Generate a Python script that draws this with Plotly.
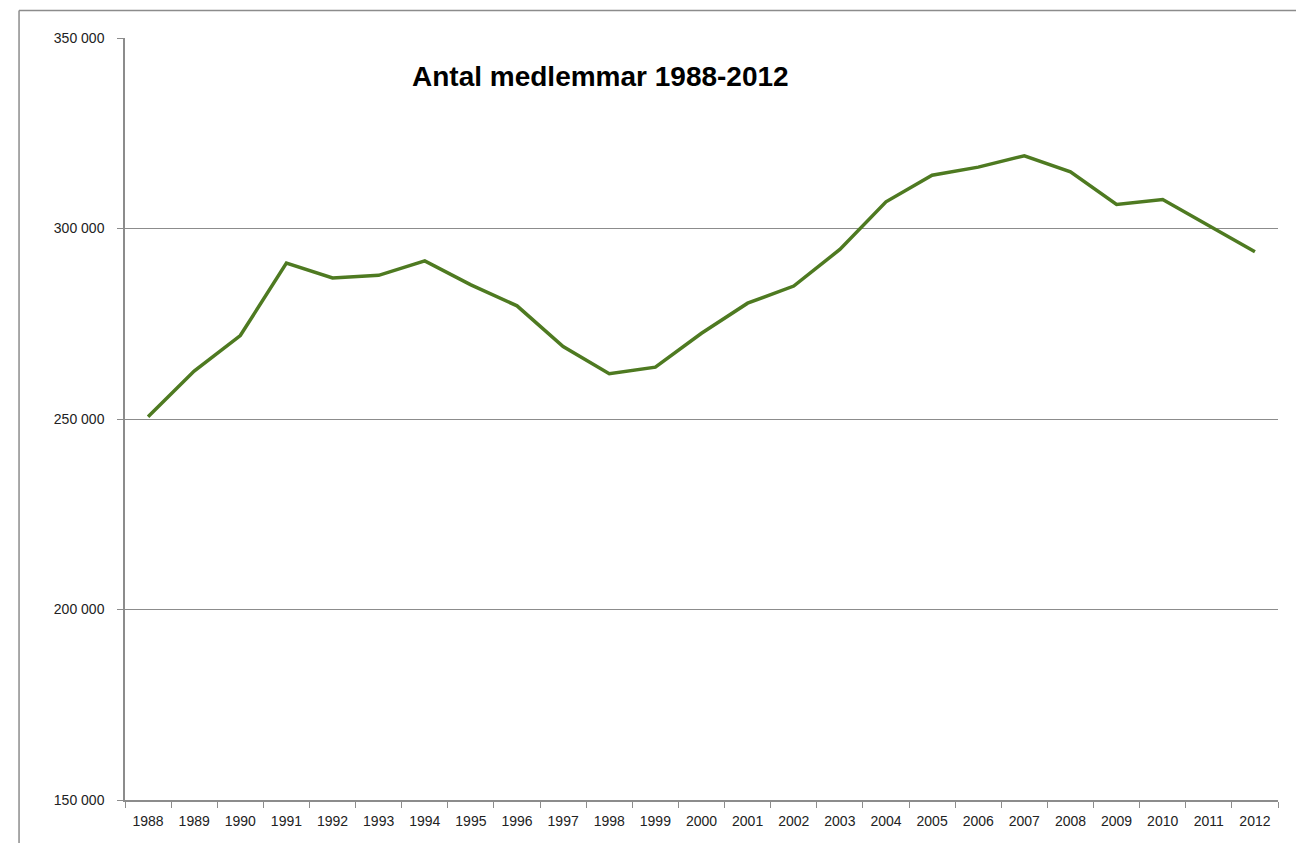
import plotly.graph_objects as go

years = [str(y) for y in range(1988, 2013)]
members = [250600, 262600, 271900, 290900, 287000, 287700, 291500, 285200,
           279700, 269000, 261900, 263600, 272500, 280400, 284900, 294500,
           307000, 314000, 316100, 319100, 314900, 306300, 307600, 300800, 293900]
title_text = "Antal medlemmar 1988-2012"
y_ticks = [150000, 200000, 250000, 300000, 350000]
y_tick_labels = ["150 000", "200 000", "250 000", "300 000", "350 000"]

FONT = "Liberation Sans Narrow, Arial Narrow, Liberation Sans, Arial, sans-serif"
GRID = "#8c8c8c"

fig = go.Figure()
fig.add_trace(go.Scatter(
    x=years, y=members, mode="lines",
    line=dict(color="#4e7a21", width=3.5),
    hoverinfo="x+y", showlegend=False,
))

fig.update_layout(
    width=1296, height=835,
    margin=dict(l=117, r=26, t=30, b=43),
    paper_bgcolor="white", plot_bgcolor="white",
    font=dict(family=FONT, size=14, color="#222"),
    xaxis=dict(
        type="category", tickson="boundaries", ticks="outside", ticklen=6,
        range=[-0.5, len(years) - 0.5], ticklabelstandoff=7,
        tickcolor=GRID, showline=True, linecolor=GRID, linewidth=1.5,
        showgrid=False, tickfont=dict(family=FONT, size=14, color="#222"),
    ),
    yaxis=dict(
        range=[150000, 350000], tickvals=y_ticks, ticktext=y_tick_labels,
        ticks="outside", ticklen=6, tickcolor=GRID, showline=True,
        linecolor=GRID, linewidth=1.5, showgrid=True, gridcolor=GRID,
        gridwidth=1, zeroline=False, ticklabelstandoff=10,
        tickfont=dict(family=FONT, size=14, color="#222"),
    ),
    shapes=[
        dict(type="line", xref="paper", yref="paper", x0=-0.0919, x1=1.1,
             y0=1.0361, y1=1.0361, line=dict(color=GRID, width=1.5)),
        dict(type="line", xref="paper", yref="paper", x0=-0.0919, x1=-0.0919,
             y0=1.0361, y1=-0.1, line=dict(color=GRID, width=1.5)),
    ],
    annotations=[dict(
        text="<b>" + title_text + "</b>", xref="paper", yref="paper",
        x=0.412, y=0.950, xanchor="center", yanchor="middle", showarrow=False,
        font=dict(family=FONT, size=28, color="black"),
    )],
)

fig.write_html("out.html")
